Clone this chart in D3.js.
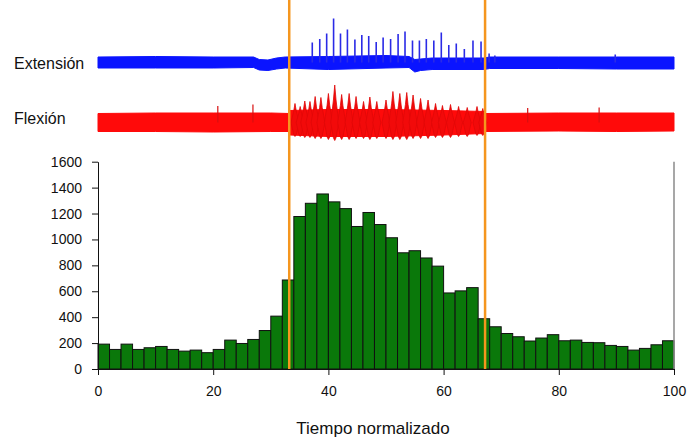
<!DOCTYPE html>
<html>
<head>
<meta charset="utf-8">
<script src="https://cdn.jsdelivr.net/npm/d3@7"></script>
<style>
  body { margin: 0; background: #fff; }
  svg { display: block; font-family: "Liberation Sans", Arial, sans-serif; }
  .axis text { font-size: 14px; fill: #111; }
  .axis path, .axis line { stroke: #111; }
</style>
</head>
<body>
<svg id="chart" width="695" height="444"></svg>
<script>
// Histogram: bin start (normalized time) and counts
var binStart = [0, 2, 4, 6, 8, 10, 12, 14, 16, 18, 20, 22, 24, 26, 28, 30, 32, 34, 36, 38,
  40, 42, 44, 46, 48, 50, 52, 54, 56, 58, 60, 62, 64, 66, 68, 70, 72, 74, 76, 78,
  80, 82, 84, 86, 88, 90, 92, 94, 96, 98];
var binCount = [192, 151, 192, 151, 164, 174, 151, 138, 146, 126, 151, 223, 197, 228, 297, 408, 687, 1177, 1279, 1351,
  1290, 1238, 1100, 1208, 1115, 1013, 897, 913, 857, 794, 587, 603, 628, 388, 326, 274, 249, 216, 239, 265,
  218, 223, 205, 203, 182, 174, 146, 159, 187, 218];
var binWidth = 2;

var yTicks = [0, 200, 400, 600, 800, 1000, 1200, 1400, 1600];
var xTicks = [0, 20, 40, 60, 80, 100];

// vertical markers (onset / offset)
var markerT = [33.2, 67.2];

// Extension EMG trace: envelope (time, upper, lower) and spikes (time, amplitude)
var extEnvT  = [0, 10, 20, 27, 28, 29.5, 31, 32.5, 40, 50, 54, 55, 56, 58, 67, 68, 80, 90, 100];
var extEnvUp = [5.5, 6, 5.5, 5.5, 3, 2.5, 4.5, 5.5, 6, 7, 6, 3, 3.5, 4.5, 4.5, 5.5, 5.5, 5.5, 5.5];
var extEnvLo = [-5.5, -5.5, -5.5, -5, -7.5, -8, -6.5, -5.5, -7, -5.5, -5, -9.5, -8, -7, -7, -6, -6, -6.5, -6.5];
var extSpikeT = [37.2, 38.5, 39.7, 40.9, 42.1, 43.3, 44.6, 45.8, 47.0, 48.3, 49.5, 50.8, 52.1, 53.3, 54.6, 55.8,
  57.0, 58.3, 59.6, 60.9, 62.2, 63.6, 65.1, 66.5, 67.9, 68.9, 89.8];
var extSpikeA = [20, 23.5, 29, 44, 29, 33, 23, 27.5, 26.5, 20.5, 25, 23.5, 28.5, 31, 22, 22,
  23.5, 22, 30, 17.5, 19, 13.5, 22, 21, 9, 7, 8];

// Flexion EMG trace: envelope, burst lobes (time, up, down) and isolated spikes
var flexEnvT  = [0, 10, 20, 30, 33.2, 33.3, 40, 50, 60, 67.2, 67.3, 80, 90, 100];
var flexEnvUp = [9, 9.5, 9.5, 9.5, 9, 12, 13, 13, 12, 11, 9, 9.5, 9.5, 9.5];
var flexEnvLo = [-9, -9, -9.5, -9, -9, -12.5, -14, -14, -12.5, -11, -9, -8.5, -9, -8.5];
var flexLobeT = [34.2, 35.1, 35.9, 36.8, 37.7, 38.7, 40.0, 41.1, 42.3, 43.6, 44.8, 46.1, 47.2, 48.4,
  50.0, 51.2, 52.4, 53.6, 54.7, 56.0, 57.3, 58.6, 59.8, 61.2, 62.6, 64.1, 65.8, 66.8];
var flexLobeUp = [19, 16, 21.5, 21, 26, 25, 29, 37.5, 28, 29, 26, 21, 25.5, 21,
  22.5, 31, 29, 30, 27.5, 24, 22.5, 19, 17, 18, 16, 15, 16, 14];
var flexLobeDn = [14, 14, 15, 15, 16, 16, 17, 18, 17, 17, 16, 16, 17, 16,
  16, 17, 17, 17, 16, 16, 16, 15, 15, 15, 14, 14, 13, 13];
var flexSpikeT = [20.8, 26.9, 74.6, 87.0];
var flexSpikeA = [16.5, 18, 14.5, 15];

var svg = d3.select('#chart');

// scales
var x = d3.scaleLinear().domain([0, 100]).range([98, 674]);
var y = d3.scaleLinear().domain([0, 1600]).range([369, 161.7]);
var yExt = d3.scaleLinear().domain([-50, 50]).range([112.5, 12.5]);
var yFlex = d3.scaleLinear().domain([-50, 50]).range([172.5, 72.5]);

// bars
svg.append('g').selectAll('rect')
  .data(binStart)
  .join('rect')
  .attr('x', function (d) { return x(d); })
  .attr('width', function (d) { return x(d + binWidth) - x(d); })
  .attr('y', function (d, i) { return y(binCount[i]); })
  .attr('height', function (d, i) { return y(0) - y(binCount[i]); })
  .attr('fill', '#0a780a')
  .attr('stroke', '#111')
  .attr('stroke-width', 1);

// right frame line
svg.append('line')
  .attr('x1', x(100)).attr('x2', x(100))
  .attr('y1', y(1600)).attr('y2', y(0))
  .attr('stroke', '#8a8a8a').attr('stroke-width', 1.5);

// axes
svg.append('g')
  .attr('class', 'axis')
  .attr('transform', 'translate(' + x(0) + ',0)')
  .call(d3.axisLeft(y).tickValues(yTicks).tickFormat(d3.format('d'))
    .tickSize(6).tickSizeOuter(0).tickPadding(10));

svg.append('g')
  .attr('class', 'axis')
  .attr('transform', 'translate(0,' + y(0) + ')')
  .call(d3.axisBottom(x).tickValues(xTicks).tickSize(6).tickSizeOuter(0).tickPadding(11));

svg.append('text')
  .attr('x', 373).attr('y', 434)
  .attr('text-anchor', 'middle')
  .style('font-size', '17px').style('fill', '#111')
  .text('Tiempo normalizado');

// EMG traces
function drawTrace(sy, envT, envUp, envLo, color) {
  var area = d3.area()
    .x(function (d) { return x(d); })
    .y0(function (d, i) { return sy(envLo[i]); })
    .y1(function (d, i) { return sy(envUp[i]); });
  svg.append('path')
    .datum(envT)
    .attr('d', area)
    .attr('fill', color)
    .attr('stroke', color)
    .attr('stroke-width', 1);
}

drawTrace(yExt, extEnvT, extEnvUp, extEnvLo, '#0a14ff');
drawTrace(yFlex, flexEnvT, flexEnvUp, flexEnvLo, '#ff0a0a');

// extension spikes
svg.append('g').selectAll('line')
  .data(extSpikeT)
  .join('line')
  .attr('x1', function (d) { return x(d); })
  .attr('x2', function (d) { return x(d); })
  .attr('y1', yExt(0))
  .attr('y2', function (d, i) { return yExt(extSpikeA[i]); })
  .attr('stroke', '#2a2ae6')
  .attr('stroke-width', 1.6);

// flexion burst lobes: spindle shape around each lobe time
var lobeHalf = 4;
svg.append('g').selectAll('path')
  .data(flexLobeT)
  .join('path')
  .attr('d', function (d, i) {
    var cx = x(d), up = flexLobeUp[i], dn = flexLobeDn[i];
    return 'M' + (cx - lobeHalf) + ',' + yFlex(0) +
      'L' + (cx - 1.3) + ',' + yFlex(up * 0.6) +
      'L' + cx + ',' + yFlex(up) +
      'L' + (cx + 1.3) + ',' + yFlex(up * 0.6) +
      'L' + (cx + lobeHalf) + ',' + yFlex(0) +
      'L' + (cx + 1.3) + ',' + yFlex(-dn * 0.85) +
      'L' + cx + ',' + yFlex(-dn) +
      'L' + (cx - 1.3) + ',' + yFlex(-dn * 0.85) + 'Z';
  })
  .attr('fill', '#f20a0a')
  .attr('stroke', '#e00808')
  .attr('stroke-width', 0.8);

// flexion isolated spikes
svg.append('g').selectAll('line')
  .data(flexSpikeT)
  .join('line')
  .attr('x1', function (d) { return x(d); })
  .attr('x2', function (d) { return x(d); })
  .attr('y1', yFlex(0))
  .attr('y2', function (d, i) { return yFlex(flexSpikeA[i]); })
  .attr('stroke', '#d81010')
  .attr('stroke-width', 1.2);

// trace labels
svg.append('text').attr('x', 14).attr('y', yExt(0) + 6)
  .style('font-size', '16px').style('fill', '#111').text('Extensión');
svg.append('text').attr('x', 14).attr('y', yFlex(0) + 1.5)
  .style('font-size', '16px').style('fill', '#111').text('Flexión');

// orange markers on top
svg.append('g').selectAll('line')
  .data(markerT)
  .join('line')
  .attr('x1', function (d) { return x(d); })
  .attr('x2', function (d) { return x(d); })
  .attr('y1', 0)
  .attr('y2', y(0))
  .attr('stroke', '#f5961e')
  .attr('stroke-width', 2.5);
</script>
</body>
</html>
